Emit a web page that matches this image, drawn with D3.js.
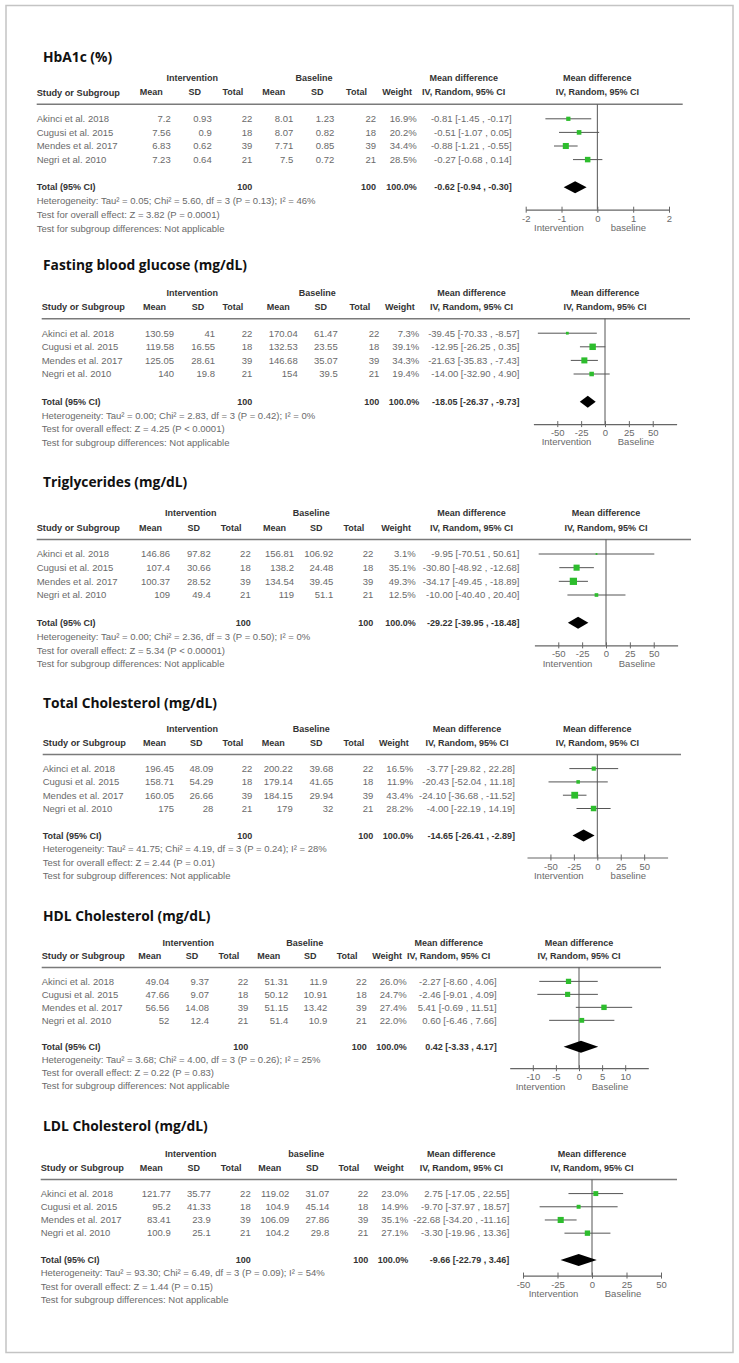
<!DOCTYPE html>
<html><head><meta charset="utf-8">
<script src="https://cdn.jsdelivr.net/npm/d3@7"></script>
<style>body{margin:0;background:#fff}svg{display:block}</style>
</head><body>
<svg id="c" width="739" height="1363"></svg>
<script>
// ---------- DATA ----------
const outcomes = ["HbA1c (%)", "Fasting blood glucose (mg/dL)", "Triglycerides (mg/dL)",
  "Total Cholesterol (mg/dL)", "HDL Cholesterol (mg/dL)", "LDL Cholesterol (mg/dL)"];
const studies = ["Akinci et al. 2018", "Cugusi et al. 2015", "Mendes et al. 2017", "Negri et al. 2010"];
const groupLabels = ["Baseline", "Baseline", "Baseline", "Baseline", "Baseline", "baseline"];
const rightLabels = ["baseline", "Baseline", "Baseline", "baseline", "Baseline", "Baseline"];
const nTotal = [22, 18, 39, 21];
const intMean = [[7.2, 7.56, 6.83, 7.23], [130.59, 119.58, 125.05, 140], [146.86, 107.4, 100.37, 109],
  [196.45, 158.71, 160.05, 175], [49.04, 47.66, 56.56, 52], [121.77, 95.2, 83.41, 100.9]];
const intSD = [[0.93, 0.9, 0.62, 0.64], [41, 16.55, 28.61, 19.8], [97.82, 30.66, 28.52, 49.4],
  [48.09, 54.29, 26.66, 28], [9.37, 9.07, 14.08, 12.4], [35.77, 41.33, 23.9, 25.1]];
const baseMean = [[8.01, 8.07, 7.71, 7.5], [170.04, 132.53, 146.68, 154], [156.81, 138.2, 134.54, 119],
  [200.22, 179.14, 184.15, 179], [51.31, 50.12, 51.15, 51.4], [119.02, 104.9, 106.09, 104.2]];
const baseSD = [[1.23, 0.82, 0.85, 0.72], [61.47, 23.55, 35.07, 39.5], [106.92, 24.48, 39.45, 51.1],
  [39.68, 41.65, 29.94, 32], [11.9, 10.91, 13.42, 10.9], [31.07, 45.14, 27.86, 29.8]];
const weights = [[16.9, 20.2, 34.4, 28.5], [7.3, 39.1, 34.3, 19.4], [3.1, 35.1, 49.3, 12.5],
  [16.5, 11.9, 43.4, 28.2], [26.0, 24.7, 27.4, 22.0], [23.0, 14.9, 35.1, 27.1]];
const md = [[-0.81, -0.51, -0.88, -0.27], [-39.45, -12.95, -21.63, -14.00], [-9.95, -30.80, -34.17, -10.00],
  [-3.77, -20.43, -24.10, -4.00], [-2.27, -2.46, 5.41, 0.60], [2.75, -9.70, -22.68, -3.30]];
const ciLow = [[-1.45, -1.07, -1.21, -0.68], [-70.33, -26.25, -35.83, -32.90], [-70.51, -48.92, -49.45, -40.40],
  [-29.82, -52.04, -36.68, -22.19], [-8.60, -9.01, -0.69, -6.46], [-17.05, -37.97, -34.20, -19.96]];
const ciHigh = [[-0.17, 0.05, -0.55, 0.14], [-8.57, 0.35, -7.43, 4.90], [50.61, -12.68, -18.89, 20.40],
  [22.28, 11.18, -11.52, 14.19], [4.06, 4.09, 11.51, 7.66], [22.55, 18.57, -11.16, 13.36]];
const totN = [100, 100, 100, 100, 100, 100];
const totWeight = [100.0, 100.0, 100.0, 100.0, 100.0, 100.0];
const totMD = [-0.62, -18.05, -29.22, -14.65, 0.42, -9.66];
const totLow = [-0.94, -26.37, -39.95, -26.41, -3.33, -22.79];
const totHigh = [-0.30, -9.73, -18.48, -2.89, 4.17, 3.46];
const tau2 = ["0.05", "0.00", "0.00", "41.75", "3.68", "93.30"];
const chi2 = ["5.60", "2.83", "2.36", "4.19", "4.00", "6.49"];
const pHet = ["0.13", "0.42", "0.50", "0.24", "0.26", "0.09"];
const i2 = ["46", "0", "0", "28", "25", "54"];
const zVal = ["3.82", "4.25", "5.34", "2.44", "0.22", "1.44"];
const pZ = ["= 0.0001", "< 0.0001", "< 0.00001", "= 0.01", "= 0.83", "= 0.15"];
const axisDomains = [[-2, 2], [-75, 75], [-75, 75], [-75, 75], [-15, 15], [-50, 50]];
const axisTicks = [[-2, -1, 0, 1, 2], [-50, -25, 0, 25, 50], [-50, -25, 0, 25, 50],
  [-50, -25, 0, 25, 50], [-10, -5, 0, 5, 10], [-50, -25, 0, 25, 50]];

// ---------- LAYOUT ----------
const layout = [
  {titleY: 57, hY: 78.3, vs: 1, axisOff: 131.4, cols: [36.7, 170.7, 211.7, 252.3, 293.3, 334.3, 376, 416.7, 511.7], range: [525.7, 669], lineEnd: 682.7},
  {titleY: 265, hY: 292.7, vs: 1, axisOff: 131.4, cols: [41.7, 174, 215, 252.3, 297.7, 337.7, 379.3, 419.3, 519.5], range: [533.4, 676.6], lineEnd: 690},
  {titleY: 481.7, hY: 513.3, vs: 1.005, axisOff: 131.4, cols: [36.7, 170, 210.7, 250.7, 294, 333.3, 373.3, 415.7, 519.5], range: [534.4, 677.6], lineEnd: 691},
  {titleY: 702.7, hY: 729, vs: 0.978, axisOff: 131.4, cols: [42.7, 174, 213.3, 252.3, 292.7, 333.3, 373.3, 413.3, 515], range: [527, 667.6], lineEnd: 681},
  {titleY: 916, hY: 942.7, vs: 0.955, axisOff: 131.4, cols: [41.7, 169.3, 209, 248.3, 288.3, 327.3, 366.7, 406.7, 496.7], range: [509.7, 648.3], lineEnd: 661},
  {titleY: 1126, hY: 1154.3, vs: 0.97, axisOff: 125, cols: [40.7, 170.7, 210.7, 250.7, 289.3, 329.3, 368.3, 408.3, 509.3], range: [523, 661], lineEnd: 677}
];

const svg = d3.select("#c");
svg.append("rect").attr("x", 6).attr("y", 5.5).attr("width", 727).attr("height", 1347)
  .attr("fill", "#fff").attr("stroke", "#c4c4c4").attr("stroke-width", 1.5);

const F = "'Liberation Sans', Arial, sans-serif";
const rowCol = "#6a6a6a", hdrCol = "#333";
const green = "#2dbd2d";
const sizeScale = d3.scaleSqrt().domain([0, 100]).range([0, 10.3]);
const fmt2 = v => v.toFixed(2);
const ciText = (m, l, h) => `${fmt2(m)} [${fmt2(l)} , ${fmt2(h)}]`;

outcomes.forEach((title, p) => {
  const L = layout[p];
  const Y = off => L.hY + off * L.vs;
  const c = L.cols;
  const g = svg.append("g");
  const txt = (x, y, s, o = {}) => g.append("text").attr("x", x).attr("y", y).attr("dy", "0.35em")
    .attr("text-anchor", o.anchor || "start").attr("font-family", F)
    .attr("font-size", o.size || 9.5).attr("font-weight", o.bold ? "bold" : "normal")
    .attr("fill", o.fill || rowCol).text(s);

  // title
  g.append("text").attr("x", 43).attr("y", L.titleY).attr("dy", "0.36em")
    .attr("font-family", "'Open Sans', 'Noto Sans', sans-serif").attr("font-size", 13.8)
    .attr("font-weight", "bold").attr("fill", "#111").text(title);

  // group headers
  txt(c[3] - 60, Y(0), "Intervention", {anchor: "middle", bold: true, fill: hdrCol, size: 9});
  txt(c[6] - 62, Y(0), groupLabels[p], {anchor: "middle", bold: true, fill: hdrCol, size: 9});
  txt(c[8] - 48, Y(0), "Mean difference", {anchor: "middle", bold: true, fill: hdrCol, size: 9});
  // column headers
  txt(c[0], Y(14), "Study or Subgroup", {bold: true, fill: hdrCol, size: 9.2});
  const hdrs = ["Mean", "SD", "Total", "Mean", "SD", "Total", "Weight"];
  hdrs.forEach((h, i) => txt(c[i + 1] - (h === "SD" ? 17 : 19.5), Y(14), h, {anchor: "middle", bold: true, fill: hdrCol, size: 9}));
  txt(c[8] - 48, Y(14), "IV, Random, 95% CI", {anchor: "middle", bold: true, fill: hdrCol, size: 9});

  // plot column
  const xs = d3.scaleLinear().domain(axisDomains[p]).range(L.range);
  txt(xs(0), Y(0), "Mean difference", {anchor: "middle", bold: true, fill: hdrCol, size: 9});
  txt(xs(0), Y(14), "IV, Random, 95% CI", {anchor: "middle", bold: true, fill: hdrCol, size: 9});

  // header rule
  g.append("line").attr("x1", c[0]).attr("x2", L.lineEnd).attr("y1", Y(26)).attr("y2", Y(26))
    .attr("stroke", "#7a7a7a").attr("stroke-width", 1.5);

  const axisY = Y(L.axisOff);
  // zero line
  g.append("line").attr("x1", xs(0)).attr("x2", xs(0)).attr("y1", Y(26)).attr("y2", axisY)
    .attr("stroke", "#555").attr("stroke-width", 1);

  // study rows
  studies.forEach((s, i) => {
    const y = Y(40.5 + i * 13.6);
    txt(c[0], y, s);
    txt(c[1], y, String(intMean[p][i]), {anchor: "end"});
    txt(c[2], y, String(intSD[p][i]), {anchor: "end"});
    txt(c[3], y, String(nTotal[i]), {anchor: "end"});
    txt(c[4], y, String(baseMean[p][i]), {anchor: "end"});
    txt(c[5], y, String(baseSD[p][i]), {anchor: "end"});
    txt(c[6], y, String(nTotal[i]), {anchor: "end"});
    txt(c[7], y, weights[p][i].toFixed(1) + "%", {anchor: "end"});
    txt(c[8], y, ciText(md[p][i], ciLow[p][i], ciHigh[p][i]), {anchor: "end"});
    // CI line + square
    g.append("line").attr("x1", xs(ciLow[p][i])).attr("x2", xs(ciHigh[p][i])).attr("y1", y).attr("y2", y)
      .attr("stroke", "#555").attr("stroke-width", 1);
    const sz = sizeScale(weights[p][i]);
    g.append("rect").attr("x", xs(md[p][i]) - sz / 2).attr("y", y - sz / 2)
      .attr("width", sz).attr("height", sz).attr("fill", green);
  });

  // total row
  const ty = Y(109);
  txt(c[0], ty, "Total (95% CI)", {bold: true, fill: hdrCol, size: 9});
  txt(c[3], ty, String(totN[p]), {anchor: "end", bold: true, fill: hdrCol, size: 9});
  txt(c[6], ty, String(totN[p]), {anchor: "end", bold: true, fill: hdrCol, size: 9});
  txt(c[7], ty, totWeight[p].toFixed(1) + "%", {anchor: "end", bold: true, fill: hdrCol, size: 9});
  txt(c[8], ty, ciText(totMD[p], totLow[p], totHigh[p]), {anchor: "end", bold: true, fill: hdrCol, size: 9});
  const dh = 6;
  g.append("path").attr("d", `M${xs(totLow[p])},${ty}L${xs(totMD[p])},${ty - dh}L${xs(totHigh[p])},${ty}L${xs(totMD[p])},${ty + dh}Z`)
    .attr("fill", "#000");

  txt(c[0], Y(122.5), `Heterogeneity: Tau² = ${tau2[p]}; Chi² = ${chi2[p]}, df = 3 (P = ${pHet[p]}); I² = ${i2[p]}%`);
  txt(c[0], Y(136.3), `Test for overall effect: Z = ${zVal[p]} (P ${pZ[p]})`);
  txt(c[0], Y(150), "Test for subgroup differences: Not applicable");

  // axis
  const ax = g.append("g").attr("transform", `translate(0,${axisY})`)
    .call(d3.axisBottom(xs).tickValues(axisTicks[p]).tickFormat(d => String(d)).tickSizeInner(3).tickSizeOuter(0));
  ax.select(".domain").attr("stroke", "#666").attr("stroke-width", 1.2);
  ax.selectAll(".tick line").attr("y1", -3).attr("y2", 3).attr("stroke", "#666");
  ax.selectAll(".tick text").attr("y", 8.7).attr("dy", "0.35em").attr("font-family", F)
    .attr("font-size", 9.5).attr("fill", rowCol);
  txt(xs(0) - 38.5, axisY + 18, "Intervention", {anchor: "middle"});
  txt(xs(0) + 31, axisY + 18, rightLabels[p], {anchor: "middle"});
});
</script>
</body></html>
